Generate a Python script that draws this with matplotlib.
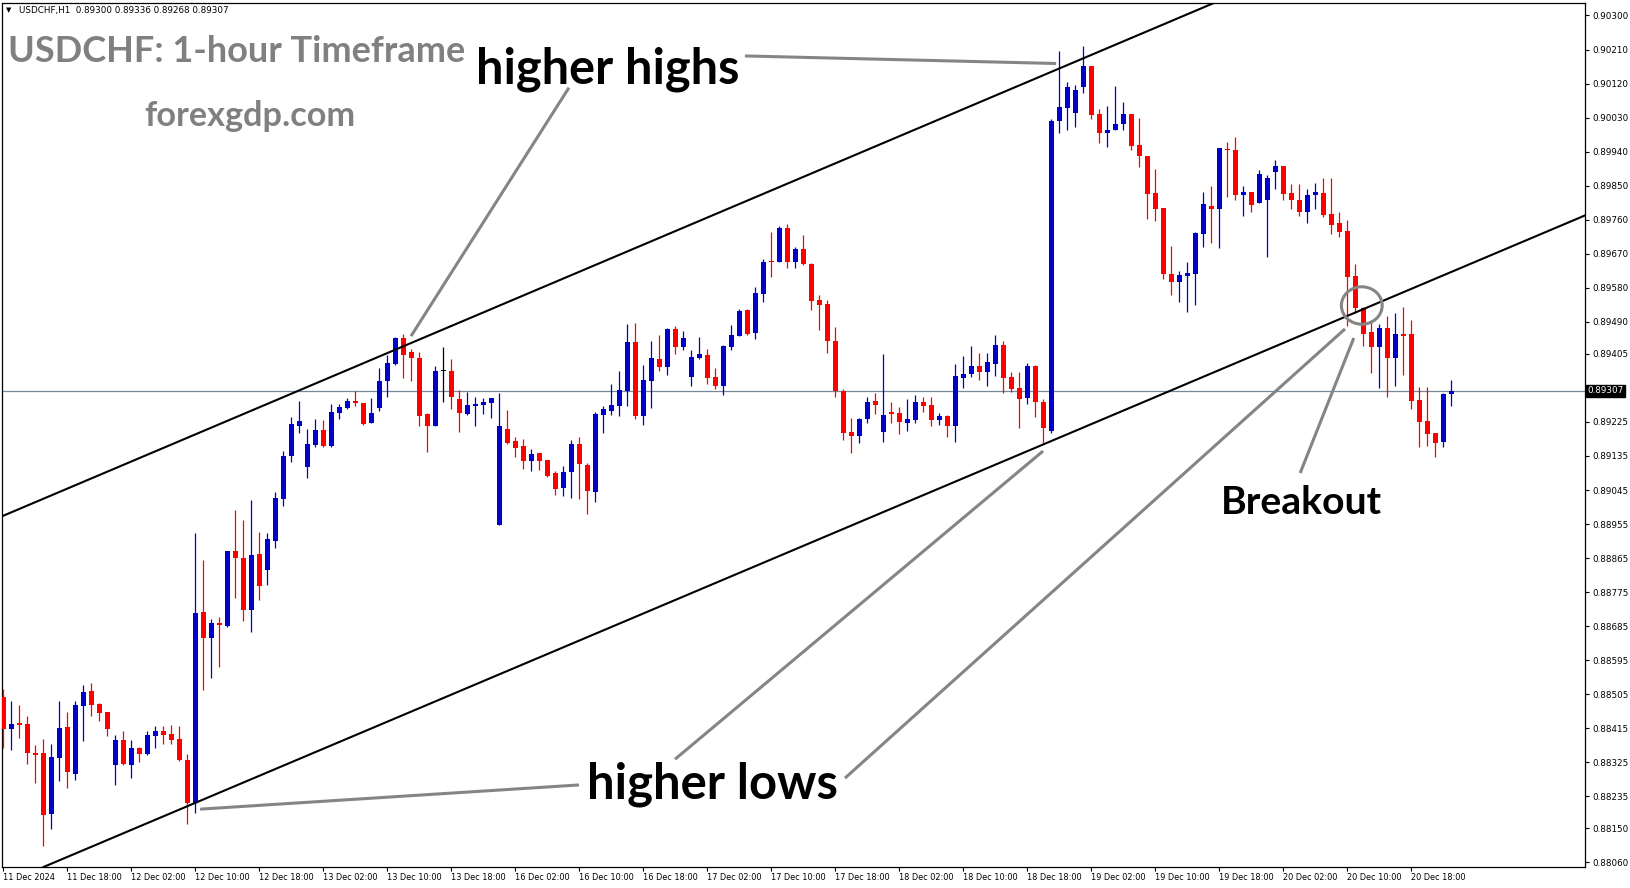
import numpy as np
import matplotlib
matplotlib.use('Agg')
import matplotlib.pyplot as plt
import matplotlib.transforms as mtransforms
from matplotlib.patches import Ellipse

# USDCHF H1 candles, 11 Dec 2024 10:00 -> 20 Dec 2024 23:00
opens = [0.88497, 0.88414, 0.88429, 0.88426, 0.88350, 0.88349, 0.88189, 0.88337, 0.88418, 0.88294,
         0.88474, 0.88513, 0.88479, 0.88458, 0.88318, 0.88384, 0.88318, 0.88363, 0.88347, 0.88394,
         0.88408, 0.88400, 0.88386, 0.88331, 0.88218, 0.88722, 0.88654, 0.88693, 0.88685, 0.88884,
         0.88865, 0.88728, 0.88876, 0.88833, 0.88911, 0.89022, 0.89136, 0.89215, 0.89107, 0.89164,
         0.89204, 0.89161, 0.89250, 0.89263, 0.89281, 0.89275, 0.89222, 0.89262, 0.89332, 0.89378,
         0.89447, 0.89410, 0.89394, 0.89246, 0.89215, 0.89360, 0.89360, 0.89286, 0.89247, 0.89268,
         0.89271, 0.89274, 0.88953, 0.89206, 0.89175, 0.89161, 0.89123, 0.89143, 0.89124, 0.89090,
         0.89051, 0.89093, 0.89167, 0.89111, 0.89041, 0.89244, 0.89255, 0.89268, 0.89307, 0.89437,
         0.89242, 0.89332, 0.89392, 0.89371, 0.89471, 0.89424, 0.89345, 0.89393, 0.89402, 0.89344,
         0.89321, 0.89424, 0.89453, 0.89521, 0.89459, 0.89564, 0.89651, 0.89649, 0.89738, 0.89649,
         0.89683, 0.89643, 0.89548, 0.89537, 0.89439, 0.89308, 0.89199, 0.89189, 0.89234, 0.89281,
         0.89199, 0.89251, 0.89249, 0.89223, 0.89231, 0.89278, 0.89270, 0.89229, 0.89241, 0.89213,
         0.89342, 0.89353, 0.89373, 0.89358, 0.89379, 0.89429, 0.89344, 0.89315, 0.89289, 0.89373,
         0.89279, 0.89201, 0.90020, 0.90054, 0.90043, 0.90112, 0.90167, 0.90040, 0.89988, 0.89996,
         0.90012, 0.90040, 0.89958, 0.89929, 0.89831, 0.89791, 0.89617, 0.89596, 0.89612, 0.89617,
         0.89721, 0.89797, 0.89789, 0.89948, 0.89945, 0.89824, 0.89834, 0.89803, 0.89813, 0.89887,
         0.89902, 0.89831, 0.89812, 0.89781, 0.89824, 0.89831, 0.89776, 0.89750, 0.89730, 0.89611,
         0.89527, 0.89464, 0.89422, 0.89474, 0.89395, 0.89458, 0.89458, 0.89283, 0.89228, 0.89197,
         0.89173, 0.89300]
highs = [0.88520, 0.88487, 0.88476, 0.88447, 0.88370, 0.88386, 0.88373, 0.88487, 0.88458, 0.88487,
         0.88529, 0.88535, 0.88482, 0.88458, 0.88397, 0.88408, 0.88384, 0.88366, 0.88408, 0.88421,
         0.88421, 0.88423, 0.88421, 0.88347, 0.88931, 0.88860, 0.88704, 0.88709, 0.88884, 0.88992,
         0.88966, 0.89019, 0.88934, 0.88931, 0.89040, 0.89149, 0.89239, 0.89281, 0.89207, 0.89233,
         0.89229, 0.89273, 0.89273, 0.89289, 0.89307, 0.89275, 0.89289, 0.89368, 0.89402, 0.89450,
         0.89458, 0.89418, 0.89410, 0.89249, 0.89373, 0.89423, 0.89392, 0.89310, 0.89304, 0.89291,
         0.89289, 0.89289, 0.89302, 0.89257, 0.89185, 0.89180, 0.89154, 0.89143, 0.89124, 0.89095,
         0.89109, 0.89177, 0.89185, 0.89117, 0.89251, 0.89267, 0.89326, 0.89360, 0.89484, 0.89487,
         0.89376, 0.89439, 0.89455, 0.89474, 0.89479, 0.89466, 0.89416, 0.89450, 0.89418, 0.89369,
         0.89429, 0.89482, 0.89524, 0.89524, 0.89582, 0.89656, 0.89728, 0.89744, 0.89749, 0.89688,
         0.89720, 0.89646, 0.89561, 0.89548, 0.89477, 0.89311, 0.89236, 0.89236, 0.89291, 0.89301,
         0.89405, 0.89277, 0.89265, 0.89286, 0.89296, 0.89291, 0.89291, 0.89250, 0.89243, 0.89378,
         0.89400, 0.89426, 0.89408, 0.89408, 0.89455, 0.89439, 0.89357, 0.89357, 0.89381, 0.89376,
         0.89286, 0.90026, 0.90206, 0.90124, 0.90117, 0.90220, 0.90167, 0.90053, 0.90061, 0.90114,
         0.90072, 0.90040, 0.90029, 0.89929, 0.89894, 0.89791, 0.89691, 0.89625, 0.89649, 0.89728,
         0.89834, 0.89849, 0.89950, 0.89966, 0.89979, 0.89849, 0.89834, 0.89892, 0.89878, 0.89918,
         0.89902, 0.89855, 0.89853, 0.89842, 0.89857, 0.89871, 0.89871, 0.89781, 0.89759, 0.89642,
         0.89530, 0.89495, 0.89484, 0.89505, 0.89513, 0.89529, 0.89495, 0.89318, 0.89318, 0.89197,
         0.89302, 0.89336]
lows = [0.88362, 0.88357, 0.88390, 0.88320, 0.88271, 0.88104, 0.88148, 0.88275, 0.88258, 0.88279,
        0.88382, 0.88448, 0.88435, 0.88394, 0.88265, 0.88318, 0.88284, 0.88326, 0.88345, 0.88363,
        0.88374, 0.88374, 0.88329, 0.88162, 0.88191, 0.88517, 0.88549, 0.88578, 0.88683, 0.88760,
        0.88699, 0.88670, 0.88754, 0.88794, 0.88892, 0.89004, 0.89120, 0.89197, 0.89078, 0.89160,
        0.89160, 0.89158, 0.89234, 0.89258, 0.89266, 0.89218, 0.89221, 0.89254, 0.89291, 0.89376,
        0.89340, 0.89332, 0.89213, 0.89146, 0.89215, 0.89279, 0.89260, 0.89199, 0.89244, 0.89215,
        0.89247, 0.89236, 0.88953, 0.89168, 0.89133, 0.89101, 0.89094, 0.89099, 0.89080, 0.89033,
        0.89030, 0.89025, 0.89022, 0.88982, 0.89014, 0.89197, 0.89244, 0.89242, 0.89268, 0.89234,
        0.89218, 0.89263, 0.89361, 0.89348, 0.89406, 0.89416, 0.89321, 0.89392, 0.89326, 0.89313,
        0.89297, 0.89416, 0.89453, 0.89456, 0.89445, 0.89543, 0.89609, 0.89648, 0.89633, 0.89633,
        0.89639, 0.89521, 0.89468, 0.89407, 0.89292, 0.89176, 0.89144, 0.89170, 0.89223, 0.89247,
        0.89173, 0.89223, 0.89194, 0.89202, 0.89223, 0.89251, 0.89213, 0.89216, 0.89186, 0.89173,
        0.89315, 0.89345, 0.89336, 0.89320, 0.89347, 0.89302, 0.89305, 0.89210, 0.89273, 0.89239,
        0.89169, 0.89197, 0.89990, 0.89998, 0.90006, 0.90096, 0.90027, 0.89964, 0.89953, 0.89996,
        0.89996, 0.89943, 0.89898, 0.89763, 0.89757, 0.89604, 0.89562, 0.89543, 0.89517, 0.89533,
        0.89689, 0.89699, 0.89684, 0.89821, 0.89813, 0.89771, 0.89781, 0.89803, 0.89660, 0.89840,
        0.89813, 0.89787, 0.89771, 0.89752, 0.89787, 0.89766, 0.89723, 0.89713, 0.89480, 0.89513,
        0.89427, 0.89355, 0.89316, 0.89292, 0.89321, 0.89350, 0.89258, 0.89158, 0.89162, 0.89131,
        0.89158, 0.89268]
closes = [0.88414, 0.88426, 0.88423, 0.88350, 0.88345, 0.88186, 0.88339, 0.88415, 0.88300, 0.88476,
          0.88511, 0.88476, 0.88456, 0.88414, 0.88384, 0.88320, 0.88363, 0.88347, 0.88397, 0.88408,
          0.88397, 0.88385, 0.88332, 0.88218, 0.88720, 0.88654, 0.88693, 0.88688, 0.88884, 0.88866,
          0.88728, 0.88873, 0.88792, 0.88915, 0.89024, 0.89135, 0.89220, 0.89228, 0.89167, 0.89204,
          0.89161, 0.89251, 0.89265, 0.89281, 0.89276, 0.89220, 0.89249, 0.89333, 0.89381, 0.89447,
          0.89403, 0.89395, 0.89242, 0.89213, 0.89360, 0.89360, 0.89292, 0.89250, 0.89270, 0.89273,
          0.89278, 0.89289, 0.89214, 0.89170, 0.89157, 0.89123, 0.89140, 0.89123, 0.89083, 0.89049,
          0.89093, 0.89167, 0.89115, 0.89043, 0.89246, 0.89259, 0.89270, 0.89310, 0.89437, 0.89242,
          0.89336, 0.89394, 0.89371, 0.89471, 0.89422, 0.89447, 0.89397, 0.89405, 0.89342, 0.89321,
          0.89426, 0.89455, 0.89519, 0.89458, 0.89566, 0.89648, 0.89648, 0.89738, 0.89649, 0.89683,
          0.89644, 0.89545, 0.89535, 0.89440, 0.89307, 0.89197, 0.89189, 0.89234, 0.89278, 0.89271,
          0.89243, 0.89247, 0.89226, 0.89233, 0.89278, 0.89268, 0.89229, 0.89241, 0.89213, 0.89347,
          0.89352, 0.89374, 0.89358, 0.89384, 0.89429, 0.89342, 0.89312, 0.89287, 0.89373, 0.89279,
          0.89210, 0.90021, 0.90058, 0.90111, 0.90103, 0.90167, 0.90038, 0.89990, 0.89998, 0.90014,
          0.90040, 0.89956, 0.89929, 0.89829, 0.89789, 0.89615, 0.89596, 0.89614, 0.89619, 0.89726,
          0.89802, 0.89789, 0.89950, 0.89943, 0.89824, 0.89834, 0.89800, 0.89881, 0.89871, 0.89902,
          0.89829, 0.89811, 0.89781, 0.89826, 0.89832, 0.89773, 0.89747, 0.89728, 0.89609, 0.89527,
          0.89458, 0.89424, 0.89474, 0.89395, 0.89458, 0.89453, 0.89281, 0.89226, 0.89194, 0.89170,
          0.89299, 0.89307]

time_labels = ['11 Dec 2024', '11 Dec 18:00', '12 Dec 02:00', '12 Dec 10:00', '12 Dec 18:00',
               '13 Dec 02:00', '13 Dec 10:00', '13 Dec 18:00', '16 Dec 02:00', '16 Dec 10:00',
               '16 Dec 18:00', '17 Dec 02:00', '17 Dec 10:00', '17 Dec 18:00', '18 Dec 02:00',
               '18 Dec 10:00', '18 Dec 18:00', '19 Dec 02:00', '19 Dec 10:00', '19 Dec 18:00',
               '20 Dec 02:00', '20 Dec 10:00', '20 Dec 18:00']
price_ticks = [0.90300, 0.90210, 0.90120, 0.90030, 0.89940, 0.89850, 0.89760, 0.89670, 0.89580,
               0.89490, 0.89405, 0.89225, 0.89135, 0.89045, 0.88955, 0.88865, 0.88775, 0.88685,
               0.88595, 0.88505, 0.88415, 0.88325, 0.88235, 0.88150, 0.88060]
last_price = 0.89307

# channel lines (bar index, price)
upper_channel = [(0, 0.88977), (130, 0.90142)]
lower_channel = [(0, 0.88003), (160, 0.89434)]

W, H = 1631, 888
fig = plt.figure(figsize=(W / 100, H / 100), dpi=100)
ax = fig.add_axes([2 / W, (H - 867) / H, (1585 - 2) / W, (867 - 3) / H])

x = np.arange(len(opens))
o = np.array(opens)
h = np.array(highs)
l = np.array(lows)
c = np.array(closes)
colors = np.where(c > o, '#0000CD', np.where(c < o, '#FF0000', '#000000'))

ax.vlines(x, l, h, colors=colors, linewidth=0.9, zorder=3)
body_low = np.minimum(o, c)
body_h = np.maximum(np.abs(c - o), 0.00003)
ax.bar(x, body_h, bottom=body_low, width=0.62, color=colors, linewidth=0, zorder=3)

# channel
ax.axline(upper_channel[0], upper_channel[1], color='black', linewidth=1.5, zorder=4)
ax.axline(lower_channel[0], lower_channel[1], color='black', linewidth=1.5, zorder=4)

# current price line
ax.axhline(last_price, color='#778899', linewidth=0.9, zorder=2)

ax.set_xlim(-0.16, 197.7)
ax.set_ylim(0.88048, 0.90333)

# annotation pointer lines
grey = '#858585'
pointers = [((92.7, 0.90193), (131.6, 0.90173)),
            ((70.7, 0.90109), (50.96, 0.89452)),
            ((71.96, 0.88265), (24.6, 0.88201)),
            ((83.96, 0.88333), (129.96, 0.89148)),
            ((105.2, 0.88283), (167.7, 0.89471)),
            ((162.1, 0.89090), (168.8, 0.89447))]
for (x1, y1), (x2, y2) in pointers:
    ax.plot([x1, x2], [y1, y2], color=grey, linewidth=2.2, solid_capstyle='butt', zorder=5)

ax.add_patch(Ellipse((169.8, 0.89533), 5.1, 0.00099, fill=False,
                     edgecolor=grey, linewidth=2.2, zorder=5))

big = dict(family='Lato', weight='bold', color='black', zorder=6)
ax.text(75.6, 0.90157, 'higher highs', fontsize=35, ha='center', va='center', **big)
ax.text(88.6, 0.88266, 'higher lows', fontsize=35.3, ha='center', va='center', **big)
ax.text(162.3, 0.89011, 'Breakout', fontsize=28.2, ha='center', va='center', **big)

fig.text(8 / W, 1 - 51 / H, 'USDCHF: 1-hour Timeframe', family='Lato', weight='bold',
         color='#808080', fontsize=26, ha='left', va='center')
fig.text(250 / W, 1 - 116 / H, 'forexgdp.com', family='Lato', weight='bold',
         color='#808080', fontsize=24.7, ha='center', va='center')
fig.text(6 / W, 1 - 10 / H, '\u25BC', fontsize=5, ha='left', va='center', color='black')
fig.text(19 / W, 1 - 10 / H, 'USDCHF,H1  0.89300 0.89336 0.89268 0.89307', fontsize=6.3,
         ha='left', va='center', color='black')

# axes styling, MT4 look
for side in ['left', 'right', 'top', 'bottom']:
    ax.spines[side].set_color('black')
    ax.spines[side].set_linewidth(0.9)
ax.yaxis.tick_right()
ax.set_yticks(price_ticks)
ax.set_yticklabels(['%.5f' % p for p in price_ticks])
ax.set_xticks(np.arange(len(time_labels)) * 8)
ax.set_xticklabels(time_labels)
for lbl in ax.get_xticklabels():
    lbl.set_horizontalalignment('left')
ax.tick_params(axis='y', direction='out', length=3, width=0.8, pad=2, labelsize=6.3)
ax.tick_params(axis='x', direction='out', length=3, width=0.8, pad=1.5, labelsize=5.9)

trans = mtransforms.blended_transform_factory(ax.transAxes, ax.transData)
ax.text(1.0015, last_price, '%.5f' % last_price, transform=trans, ha='left', va='center',
        color='white', fontsize=6.3, bbox=dict(facecolor='black', edgecolor='black', pad=1.3),
        clip_on=False, zorder=7)

fig.savefig('out.png', dpi=100)
